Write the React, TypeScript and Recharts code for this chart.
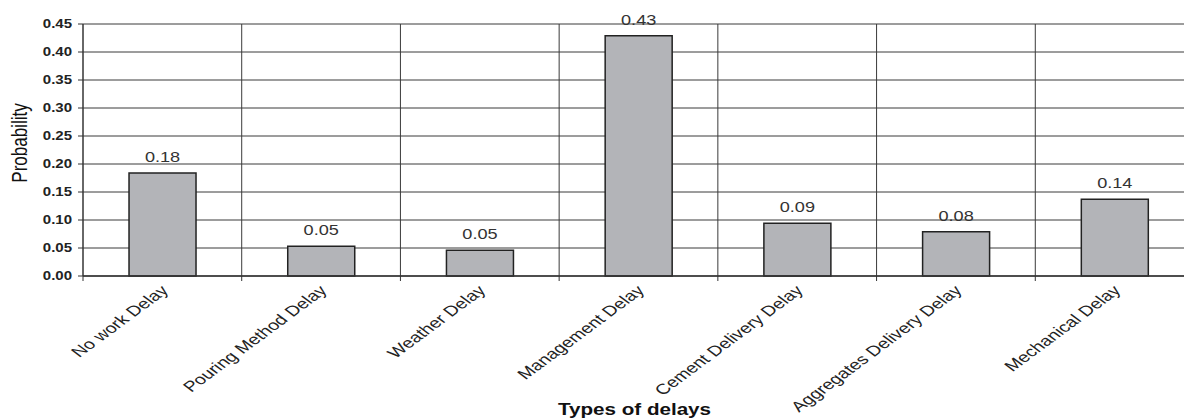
import React from "react";
import {
  BarChart,
  Bar,
  CartesianGrid,
  LabelList,
  XAxis,
  YAxis,
} from "recharts";

const delayTypes = [
  "No work Delay",
  "Pouring Method Delay",
  "Weather Delay",
  "Management Delay",
  "Cement Delivery Delay",
  "Aggregates Delivery Delay",
  "Mechanical Delay",
];

const probabilities = [0.184, 0.053, 0.046, 0.429, 0.094, 0.079, 0.137];

const yTicks = [0, 0.05, 0.1, 0.15, 0.2, 0.25, 0.3, 0.35, 0.4, 0.45];

const data = delayTypes.map((name, i) => ({ name, value: probabilities[i] }));

// the source image is stretched sideways, so every text gets the same squash
const STRETCH = 1.25;
const FONT = "'Liberation Sans', Arial, sans-serif";

const YTick = ({ x, y, payload }: any) => (
  <text
    transform={`translate(${x},${y}) scale(${STRETCH},1)`}
    textAnchor="end"
    dy="0.36em"
    fontFamily={FONT}
    fontSize={12}
    fontWeight="bold"
    fill="#222"
  >
    {Number(payload.value).toFixed(2)}
  </text>
);

// category label plus the little marks on the band edges (Excel style)
const XTick = ({ x, y, width, visibleTicksCount, index, payload }: any) => {
  const band = width / visibleTicksCount;
  const left = x - band / 2;
  return (
    <g>
      <line x1={left} x2={left} y1={y} y2={y + 5} stroke="#333" />
      {index === visibleTicksCount - 1 && (
        <line x1={left + band} x2={left + band} y1={y} y2={y + 5} stroke="#333" />
      )}
      <text
        transform={`translate(${x - 3},${y + 8}) scale(1.35,1) rotate(-45)`}
        textAnchor="end"
        dy="0.72em"
        fontFamily={FONT}
        fontSize={14.5}
        fill="#222"
      >
        {payload.value}
      </text>
    </g>
  );
};

const BarValue = ({ x, y, width, value }: any) => (
  <text
    transform={`translate(${x + width / 2},${y - 11}) scale(${STRETCH},1)`}
    textAnchor="middle"
    fontFamily={FONT}
    fontSize={14.5}
    fill="#333"
  >
    {Number(value).toFixed(2)}
  </text>
);

const XTitle = ({ viewBox }: any) => (
  <text
    transform={`translate(${viewBox.x + viewBox.width / 2 - 4},${viewBox.y + viewBox.height - 4}) scale(${STRETCH},1)`}
    textAnchor="middle"
    fontFamily={FONT}
    fontSize={16.5}
    fontWeight="bold"
    fill="#111"
  >
    Types of delays
  </text>
);

const YTitle = ({ viewBox }: any) => (
  <text
    transform={`translate(27,${viewBox.y + viewBox.height / 2 - 7}) scale(${STRETCH},1) rotate(-90)`}
    textAnchor="middle"
    fontFamily={FONT}
    fontSize={17}
    fill="#111"
  >
    Probability
  </text>
);

const categoryEdges = ({ offset }: any) =>
  [0, ...delayTypes.map((_, i) => i + 1)].map(
    (i) => offset.left + (i * offset.width) / delayTypes.length
  );

export default function App() {
  return (
    <div
      style={{
        position: "absolute",
        left: 0,
        top: 0,
        width: 1184,
        height: 419,
        overflow: "hidden",
        background: "#fff",
      }}
    >
      <BarChart
        width={1200}
        height={419}
        data={data}
        margin={{ top: 24, right: 6, left: 0, bottom: 0 }}
        barCategoryGap="29%"
      >
        <CartesianGrid
          stroke="#3a3a3a"
          strokeWidth={1}
          fill="#fff"
          verticalCoordinatesGenerator={categoryEdges}
        />
        <XAxis
          dataKey="name"
          interval={0}
          height={143}
          axisLine={{ stroke: "#333", strokeWidth: 1.5 }}
          tickLine={false}
          tickSize={0}
          tickMargin={0}
          tick={<XTick />}
          label={<XTitle />}
        />
        <YAxis
          width={83}
          domain={[0, 0.45]}
          ticks={yTicks}
          interval={0}
          tickSize={5}
          tickMargin={6}
          axisLine={{ stroke: "#333" }}
          tickLine={{ stroke: "#333" }}
          tick={<YTick />}
          label={<YTitle />}
        />
        <Bar
          dataKey="value"
          fill="#b3b4b8"
          stroke="#222"
          strokeWidth={1.5}
          isAnimationActive={false}
        >
          <LabelList dataKey="value" content={<BarValue />} />
        </Bar>
      </BarChart>
    </div>
  );
}
